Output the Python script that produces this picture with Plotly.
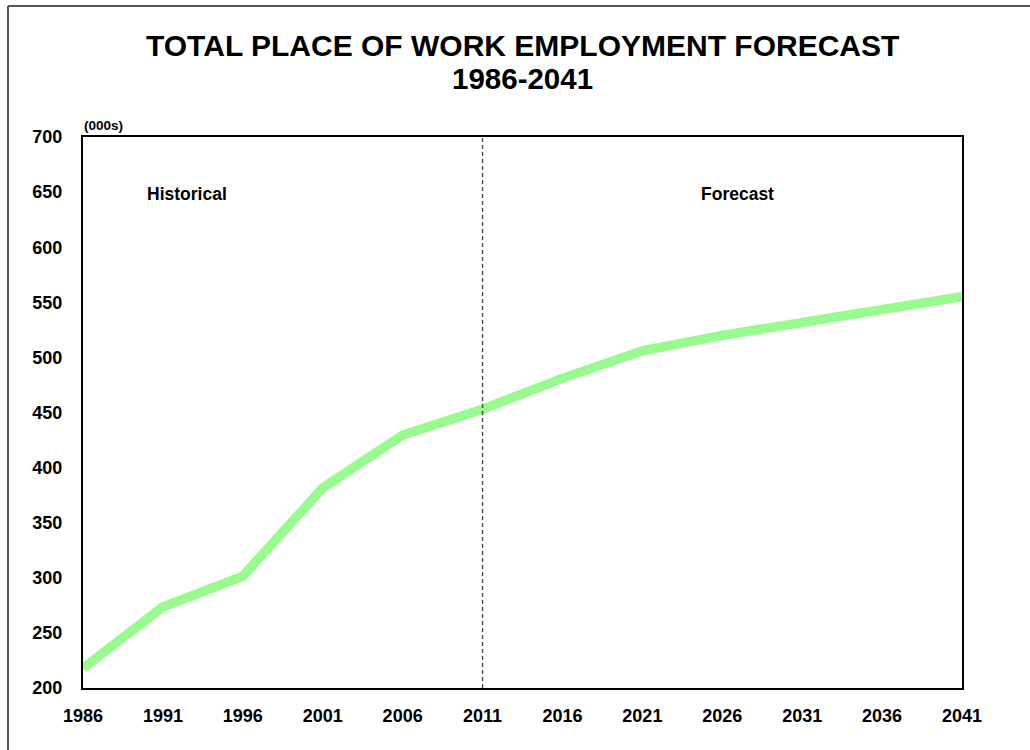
import plotly.graph_objects as go

# Total place-of-work employment, thousands
years = [1986, 1991, 1996, 2001, 2006, 2011, 2016, 2021, 2026, 2031, 2036, 2041]
employment = [218, 273.5, 301.5, 381.5, 429.5, 453, 481, 506, 520, 532, 542, 555]

y_ticks = [200, 250, 300, 350, 400, 450, 500, 550, 600, 650, 700]
split_year = 2011

W, H = 1030, 750
L, R, T, B = 83, 68, 137, 62
pw, ph = W - L - R, H - T - B

def px_x(p):
    return (p - L) / pw

def px_y(p):
    return (H - B - p) / ph

FONT = "Liberation Sans, Arial, sans-serif"

fig = go.Figure()
fig.add_trace(go.Scatter(
    x=years, y=employment, mode="lines",
    line=dict(color="#99FB8F", width=9.5),
    hoverinfo="x+y", showlegend=False,
))

shapes = [
    # boundary between historical and forecast periods
    dict(type="line", xref="x", yref="paper", x0=split_year, x1=split_year, y0=0, y1=1,
         line=dict(color="#4d4d4d", width=1.4, dash="4px,3px")),
    # outer chart frame
    dict(type="line", xref="paper", yref="paper", x0=px_x(8), x1=px_x(W + 5),
         y0=px_y(6), y1=px_y(6), line=dict(color="#555555", width=2)),
    dict(type="line", xref="paper", yref="paper", x0=px_x(8), x1=px_x(8),
         y0=px_y(6), y1=px_y(H + 5), line=dict(color="#555555", width=2)),
]

annotations = [
    dict(text="<b>TOTAL PLACE OF WORK EMPLOYMENT FORECAST</b>", xref="paper", yref="paper",
         x=0.5, y=px_y(45), showarrow=False, font=dict(size=30, color="black", family=FONT),
         xanchor="center", yanchor="middle"),
    dict(text="<b>1986-2041</b>", xref="paper", yref="paper",
         x=0.5, y=px_y(79), showarrow=False, font=dict(size=29.5, color="black", family=FONT),
         xanchor="center", yanchor="middle"),
    dict(text="<b>(000s)</b>", xref="paper", yref="paper", x=px_x(82), y=px_y(125),
         showarrow=False, font=dict(size=13.5, color="black", family=FONT),
         xanchor="left", yanchor="middle"),
    dict(text="<b>Historical</b>", xref="paper", yref="paper", x=px_x(187), y=px_y(194),
         showarrow=False, font=dict(size=17.5, color="black", family=FONT),
         xanchor="center", yanchor="middle"),
    dict(text="<b>Forecast</b>", xref="paper", yref="paper", x=px_x(737), y=px_y(194),
         showarrow=False, font=dict(size=17.5, color="black", family=FONT),
         xanchor="center", yanchor="middle"),
]

fig.update_layout(
    width=W, height=H,
    margin=dict(l=L, r=R, t=T, b=B, pad=0),
    paper_bgcolor="white", plot_bgcolor="white",
    font=dict(family=FONT, color="black"),
    shapes=shapes, annotations=annotations,
    xaxis=dict(
        range=[1986, 2041], tickvals=years, ticktext=[f"<b>{y}</b>" for y in years],
        showgrid=False, zeroline=False, showline=True, linecolor="black", linewidth=2,
        mirror=True, ticks="outside", ticklen=10, tickcolor="rgba(0,0,0,0)",
        tickfont=dict(size=18, family=FONT, color="black"),
    ),
    yaxis=dict(
        range=[200, 700], tickvals=y_ticks, ticktext=[f"<b>{v}</b>" for v in y_ticks],
        showgrid=False, zeroline=False, showline=True, linecolor="black", linewidth=2,
        mirror=True, ticks="outside", ticklen=15, tickcolor="rgba(0,0,0,0)",
        tickfont=dict(size=18, family=FONT, color="black"),
    ),
)

fig.write_html("out.html")
